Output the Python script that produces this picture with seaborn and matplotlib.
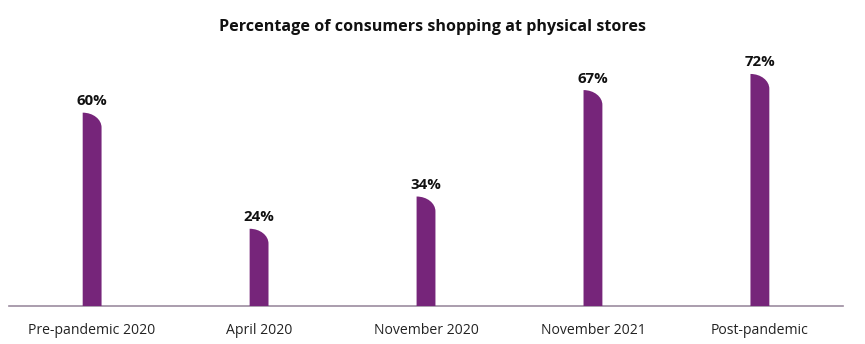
import matplotlib
matplotlib.use("Agg")
import matplotlib.pyplot as plt
import seaborn as sns
import pandas as pd
from matplotlib.path import Path
from matplotlib.patches import PathPatch

categories = ["Pre-pandemic 2020", "April 2020", "November 2020", "November 2021", "Post-pandemic"]
values = [60, 24, 34, 67, 72]
labels = ["60%", "24%", "34%", "67%", "72%"]

BAR = "#76257A"
sns.set_theme(style="white")
plt.rcParams["font.family"] = ["Open Sans", "DejaVu Sans"]

df = pd.DataFrame({"cat": categories, "val": values})
fig = plt.figure(figsize=(8.65, 3.44), dpi=100)
ax = fig.add_axes([0.01, 0.11, 0.965, 0.75])
sns.barplot(data=df, x="cat", y="val", color=BAR, width=0.113, saturation=1, ax=ax)

ry = 4.6
k = 0.5523
for p in list(ax.patches):
    x, y0 = p.get_x(), p.get_y()
    w, h = p.get_width(), p.get_height()
    top = y0 + h
    verts = [(x, y0), (x + w, y0), (x + w, top - ry),
             (x + w, top - ry + k * ry), (x + k * w, top), (x, top),
             (x, y0), (x, y0)]
    codes = [Path.MOVETO, Path.LINETO, Path.LINETO,
             Path.CURVE4, Path.CURVE4, Path.CURVE4,
             Path.LINETO, Path.CLOSEPOLY]
    p.set_visible(False)
    ax.add_patch(PathPatch(Path(verts, codes), facecolor=BAR, edgecolor="none", zorder=3))

for i, (v, lab) in enumerate(zip(values, labels)):
    ax.text(i, v + 1.4, lab, ha="center", va="bottom", fontsize=10.8, fontweight="bold", color="#111111")

ax.set_xlim(-0.5, 4.5)
ax.set_ylim(0, 80)
ax.set_xlabel("")
ax.set_ylabel("")
ax.set_yticks([])
for s in ["top", "left", "right"]:
    ax.spines[s].set_visible(False)
ax.spines["bottom"].set_color("#9C8CA0")
ax.spines["bottom"].set_linewidth(1.2)
ax.tick_params(axis="x", length=0, pad=12, labelsize=10.1, labelcolor="#222222")

fig.suptitle("Percentage of consumers shopping at physical stores", x=0.5, y=0.945,
             fontsize=11.6, fontweight="bold", color="#111111")
fig.savefig("out.png", dpi=100, facecolor="white")
